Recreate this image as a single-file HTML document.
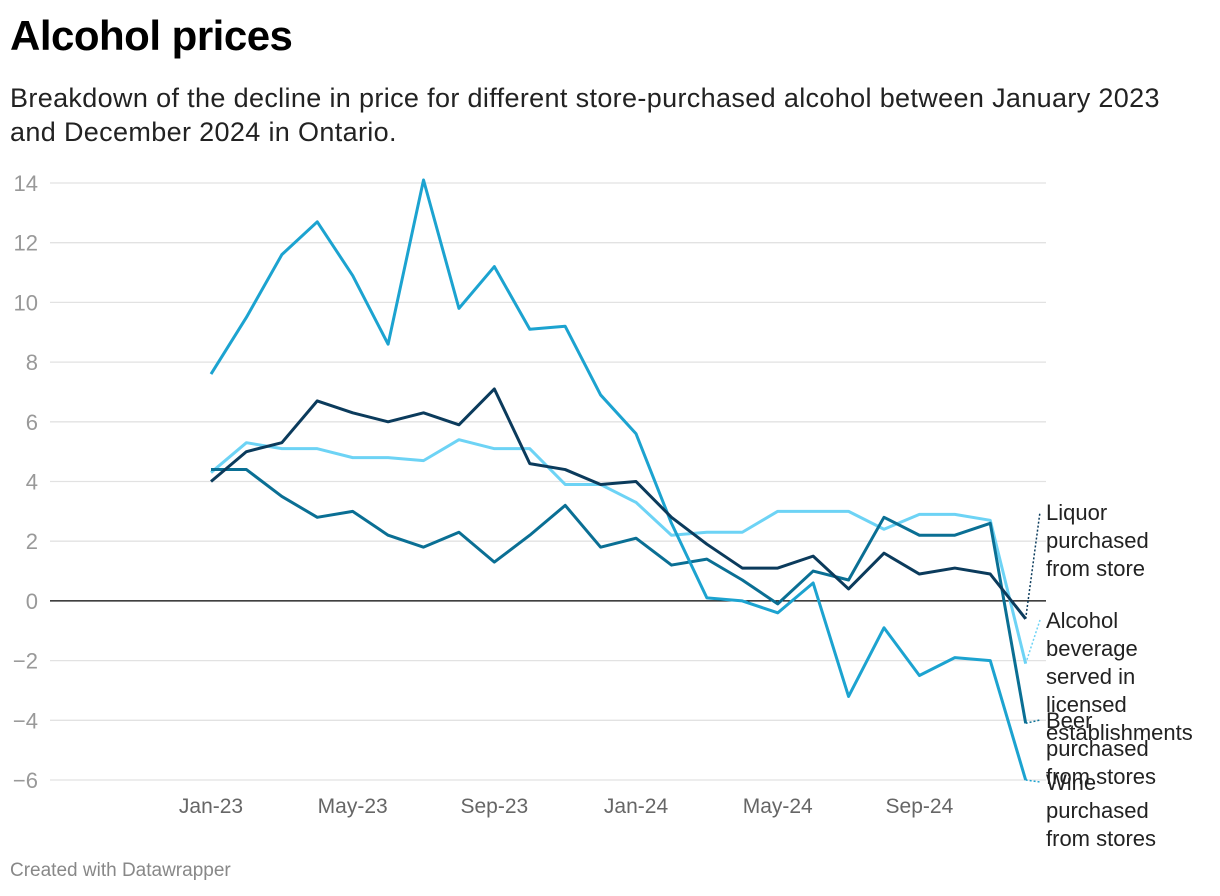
<!DOCTYPE html>
<html><head><meta charset="utf-8">
<style>
body{margin:0;background:#fff;font-family:"Liberation Sans",sans-serif;}
#wrap{position:relative;width:1220px;height:896px;overflow:hidden}
h1{position:absolute;left:10px;top:12px;margin:0;font-size:42px;font-weight:bold;color:#000;letter-spacing:-0.5px}
#sub{position:absolute;left:10px;top:81px;margin:0;font-size:27px;letter-spacing:0.35px;line-height:34px;color:#222;width:1180px}
#foot{position:absolute;left:10px;top:860px;font-size:19px;color:#888}
svg{position:absolute;left:0;top:0}
</style></head><body>
<div id="wrap">
<h1>Alcohol prices</h1>
<p id="sub">Breakdown of the decline in price for different store-purchased alcohol between January 2023 and December 2024 in Ontario.</p>
<svg id="chart" width="1220" height="896"></svg>
<div id="foot">Created with Datawrapper</div>
</div>
<script>
const yTicks=[14,12,10,8,6,4,2,0,-2,-4,-6];
const xTickLabels=["Jan-23","May-23","Sep-23","Jan-24","May-24","Sep-24"];
const xTickIdx=[0,4,8,12,16,20];
const wine=[7.6,9.5,11.6,12.7,10.9,8.6,14.1,9.8,11.2,9.1,9.2,6.9,5.6,2.6,0.1,0.0,-0.4,0.6,-3.2,-0.9,-2.5,-1.9,-2.0,-6.0];
const liquor=[4.0,5.0,5.3,6.7,6.3,6.0,6.3,5.9,7.1,4.6,4.4,3.9,4.0,2.8,1.9,1.1,1.1,1.5,0.4,1.6,0.9,1.1,0.9,-0.6];
const licensed=[4.3,5.3,5.1,5.1,4.8,4.8,4.7,5.4,5.1,5.1,3.9,3.9,3.3,2.2,2.3,2.3,3.0,3.0,3.0,2.4,2.9,2.9,2.7,-2.1];
const beer=[4.4,4.4,3.5,2.8,3.0,2.2,1.8,2.3,1.3,2.2,3.2,1.8,2.1,1.2,1.4,0.7,-0.1,1.0,0.7,2.8,2.2,2.2,2.6,-4.1];
const NS="http://www.w3.org/2000/svg";
const svg=document.getElementById('chart');
const x=i=>211+i*35.42;
const y=v=>600.9-v*29.85;
function mk(t,a,p){const e=document.createElementNS(NS,t);for(const k in a)e.setAttribute(k,a[k]);(p||svg).appendChild(e);return e;}
yTicks.forEach(v=>{
 const l=mk('line',{x1:50,x2:1046,y1:y(v),y2:y(v),stroke:v===0?'#000':'#e2e2e2','stroke-width':1.3});
 
 
 const t=mk('text',{x:38,y:y(v)+8,fill:'#999','font-size':22,'text-anchor':'end','font-family':'Liberation Sans, sans-serif'});
 t.textContent=v<0?'\u2212'+Math.abs(v):String(v);
 
 
});
xTickLabels.forEach((s,k)=>{
 const t=mk('text',{x:x(xTickIdx[k]),y:813,fill:'#666','font-size':21,'text-anchor':'middle','font-family':'Liberation Sans, sans-serif'});
 t.textContent=s;
 
 
});
const series=[
 {d:licensed,c:'#6dd3f5',n:'licensed-line',lab:["Alcohol","beverage","served in","licensed","establishments"],ly:628},
 {d:beer,c:'#0a6f94',n:'beer-line',lab:["Beer","purchased","from stores"],ly:728},
 {d:wine,c:'#1ca3d0',n:'wine-line',lab:["Wine","purchased","from stores"],ly:790},
 {d:liquor,c:'#0b3b5c',n:'liquor-line',lab:["Liquor","purchased","from store"],ly:520}
];
series.forEach(s=>{
 const p=mk('polyline',{points:s.d.map((v,i)=>x(i)+','+y(v)).join(' '),fill:'none',stroke:s.c,'stroke-width':3,'stroke-linejoin':'round'});
 
 
 const last=s.d.length-1;
 const c=mk('line',{x1:x(last),y1:y(s.d[last]),x2:1040,y2:s.ly-8,stroke:s.c,'stroke-width':1.5,'stroke-dasharray':'2,2'});
 
 
 const t=mk('text',{x:1046,y:s.ly,fill:'#222','font-size':22,'font-family':'Liberation Sans, sans-serif'});
 s.lab.forEach((w,i)=>{const ts=mk('tspan',{x:1046,dy:i?28:0},t);ts.textContent=w;});
 
 
});
</script>
</body></html>
